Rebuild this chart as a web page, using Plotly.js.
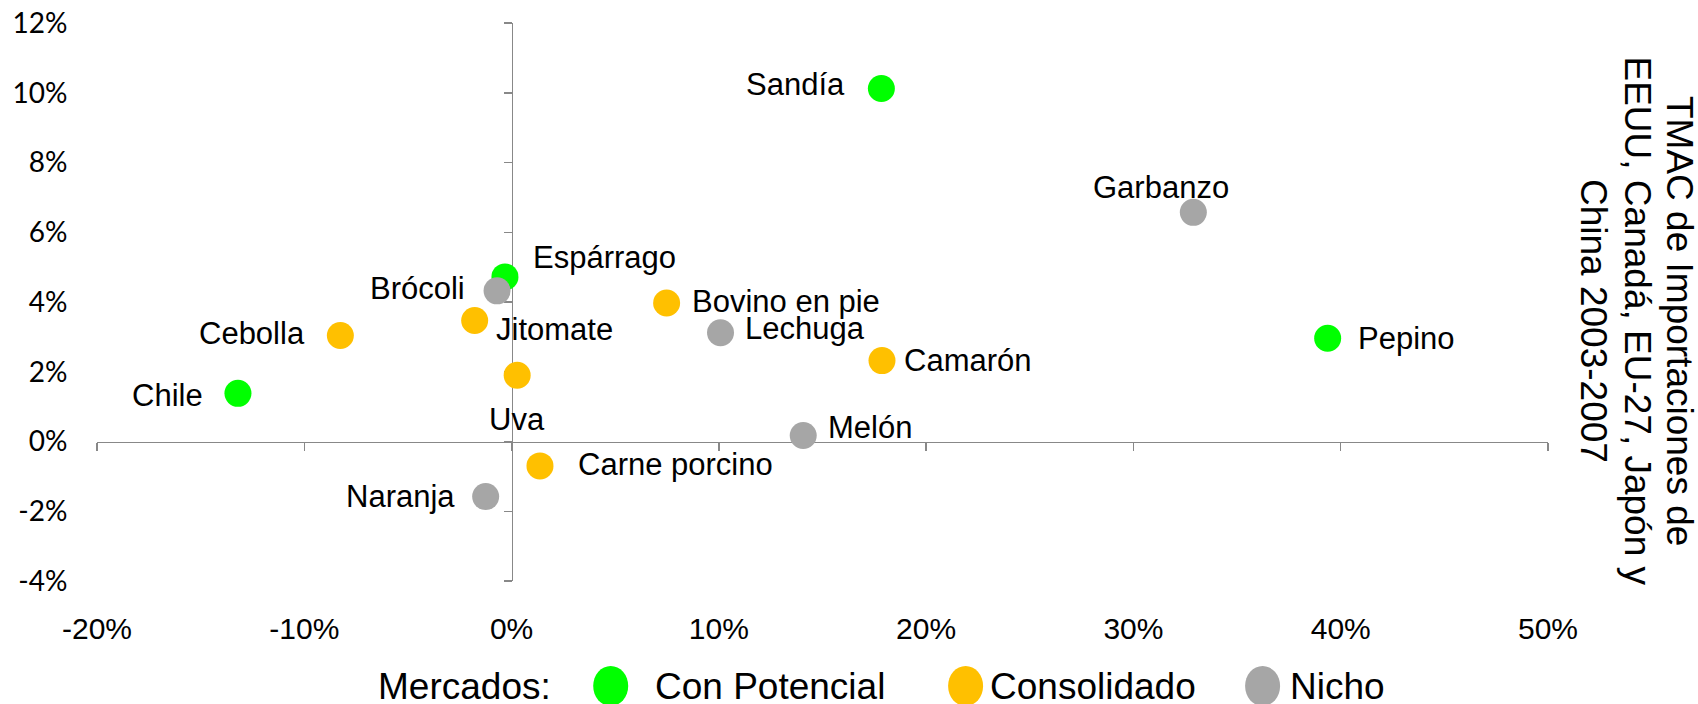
<!DOCTYPE html>
<html>
<head>
<meta charset="utf-8">
<script src="https://cdn.plot.ly/plotly-3.0.1.min.js"></script>
<style>html,body{margin:0;padding:0;background:#fff;}#chart{width:1698px;height:704px;}</style>
</head>
<body>
<div id="chart"></div>
<script>
// ---- data ----
const products = ['Chile','Cebolla','Jitomate','Brócoli','Espárrago','Uva','Carne porcino','Naranja','Sandía','Bovino en pie','Lechuga','Camarón','Melón','Garbanzo','Pepino'];
const xValues  = [-13.2, -8.26, -1.78, -0.70, -0.32, 0.27, 1.37, -1.25, 17.84, 7.48, 10.08, 17.87, 14.07, 32.89, 39.37];
const yValues  = [1.38, 3.04, 3.47, 4.32, 4.72, 1.90, -0.70, -1.58, 10.12, 3.97, 3.12, 2.32, 0.17, 6.57, 2.96];
const market   = ['Con Potencial','Consolidado','Consolidado','Nicho','Con Potencial','Consolidado','Consolidado','Nicho','Con Potencial','Consolidado','Nicho','Consolidado','Nicho','Nicho','Con Potencial'];
const categories = ['Con Potencial','Consolidado','Nicho'];
const categoryColors = ['#00FF00','#FFC000','#A6A6A6'];
const legendTitle = 'Mercados:';
const xTickVals = [-20,-10,0,10,20,30,40,50];
const xTickText = ['-20%','-10%','0%','10%','20%','30%','40%','50%'];
const yTickVals = [-4,-2,0,2,4,6,8,10,12];
const yTickText = ['-4%','-2%','0%','2%','4%','6%','8%','10%','12%'];
const axisTitleLines = ['TMAC de Importaciones de','EEUU, Canadá, EU-27, Japón y','China 2003-2007'];

// ---- label placement (style only): [xanchor, xshift px, yshift px] ----
const labelPlacement = {
  'Chile':['right',-33,-2], 'Cebolla':['right',-33,2], 'Jitomate':['left',19,-9],
  'Brócoli':['right',-30,2.5], 'Espárrago':['left',26,19], 'Uva':['center',0,-44.5],
  'Carne porcino':['left',36,1], 'Naranja':['right',-28.5,0], 'Sandía':['right',-34.5,4.5],
  'Bovino en pie':['left',23.5,2], 'Lechuga':['left',22,4], 'Camarón':['left',20.5,0],
  'Melón':['left',22.5,8], 'Garbanzo':['center',-32,25], 'Pepino':['left',28,0]
};

const W = 1698, H = 704;
const M = {l:97, r:150, t:23, b:123};
const FONT = '"Liberation Sans", Arial, sans-serif';
const AXC = '#888888';
const px2x = p => (p - M.l) / (W - M.l - M.r);
const py2y = p => (H - M.b - p) / (H - M.t - M.b);

const xRange = [xTickVals[0], xTickVals[xTickVals.length-1]];
const yRange = [yTickVals[0], yTickVals[yTickVals.length-1]];

// first two groups on the labelled axes (x, y); the last group on the
// overlaid axes (x2, y2) which draw the axis lines crossing at 0
const traces = categories.map((c, ci) => {
  const idx = market.map((m,i)=> m===c ? i : -1).filter(i=>i>=0);
  const onOverlay = ci === categories.length - 1;
  return {
    type:'scatter', mode:'markers', name:c, showlegend:false,
    xaxis: onOverlay ? 'x2' : 'x', yaxis: onOverlay ? 'y2' : 'y',
    x: idx.map(i=>xValues[i]), y: idx.map(i=>yValues[i]),
    marker:{size:27, color:categoryColors[ci], line:{width:0}},
    hoverinfo:'skip'
  };
});

const annotations = products.map((p,i) => {
  const pl = labelPlacement[p];
  return {xref:'x', yref:'y', x:xValues[i], y:yValues[i], text:p, showarrow:false,
    xanchor:pl[0], yanchor:'middle', xshift:pl[1], yshift:pl[2],
    font:{family:FONT, size:31, color:'#000'}};
});

// right-side axis title (rotated, reading top to bottom)
const titleX = [1680, 1637.5, 1594];
axisTitleLines.forEach((t,i) => {
  annotations.push({xref:'paper', yref:'paper', x:px2x(titleX[i]), y:py2y(321), text:t,
    textangle:90, showarrow:false, xanchor:'center', yanchor:'middle',
    font:{family:FONT, size:37, color:'#000'}});
});

// custom legend
const legendY = 686;
annotations.push({xref:'paper', yref:'paper', x:px2x(376), y:py2y(legendY), text:legendTitle,
  showarrow:false, xanchor:'left', yanchor:'middle', font:{family:FONT, size:37, color:'#000'}});
const legendSymX = [610.7, 965.6, 1262.6];
const legendTextX = [653, 988, 1288];
const shapes = [];
categories.forEach((c,ci) => {
  shapes.push({type:'circle', xref:'paper', yref:'paper', xsizemode:'pixel', ysizemode:'pixel',
    xanchor:px2x(legendSymX[ci]), yanchor:py2y(legendY), x0:-17.5, x1:17.5, y0:-20, y1:20,
    fillcolor:categoryColors[ci], line:{width:0}});
  annotations.push({xref:'paper', yref:'paper', x:px2x(legendTextX[ci]), y:py2y(legendY), text:c,
    showarrow:false, xanchor:'left', yanchor:'middle', font:{family:FONT, size:37, color:'#000'}});
});

const layout = {
  width:W, height:H, margin:M, paper_bgcolor:'#fff', plot_bgcolor:'rgba(0,0,0,0)',
  showlegend:false, hovermode:false,
  xaxis:{range:xRange, tickvals:xTickVals, ticktext:xTickText, showgrid:false, zeroline:false,
    showline:false, ticks:'outside', ticklen:21, tickcolor:'rgba(0,0,0,0)',
    tickfont:{family:FONT, size:30, color:'#000'}, fixedrange:true},
  yaxis:{range:yRange, tickvals:yTickVals, ticktext:yTickText, showgrid:false, zeroline:false,
    showline:false, ticks:'outside', ticklen:23, tickcolor:'rgba(0,0,0,0)',
    tickfont:{family:'Lato, "Liberation Sans", sans-serif', size:28, color:'#000'}, fixedrange:true},
  xaxis2:{overlaying:'x', anchor:'free', position:(0 - yRange[0])/(yRange[1]-yRange[0]), side:'bottom',
    range:xRange, tickvals:xTickVals, showticklabels:false, ticks:'outside', ticklen:8, tickwidth:1.5,
    tickcolor:AXC, showline:true, linecolor:AXC, linewidth:1.5, showgrid:false, zeroline:false,
    layer:'below traces', fixedrange:true},
  yaxis2:{overlaying:'y', anchor:'free', position:(0 - xRange[0])/(xRange[1]-xRange[0]), side:'left',
    range:yRange, tickvals:yTickVals, showticklabels:false, ticks:'outside', ticklen:8, tickwidth:1.5,
    tickcolor:AXC, showline:true, linecolor:AXC, linewidth:1.5, showgrid:false, zeroline:false,
    layer:'below traces', fixedrange:true},
  annotations:annotations, shapes:shapes
};

Plotly.newPlot('chart', traces, layout, {displayModeBar:false, staticPlot:true});
</script>
</body>
</html>
